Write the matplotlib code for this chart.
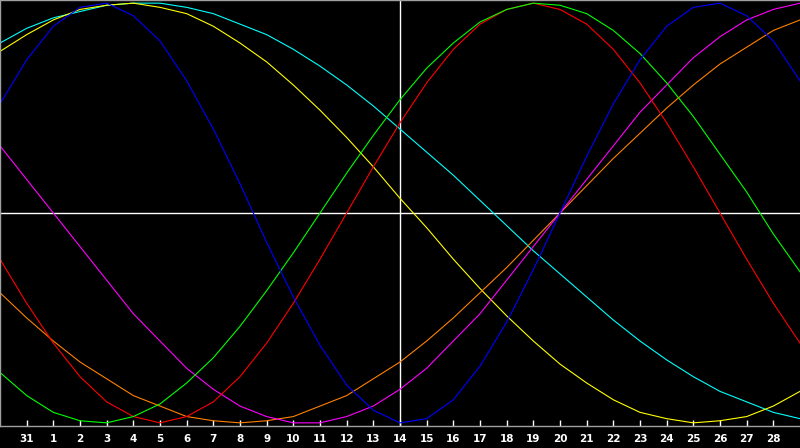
import numpy as np
import matplotlib
matplotlib.use('Agg')
import matplotlib.pyplot as plt

# day labels along the bottom (31 Jan, then 1..28)
day_labels = ['31', '1', '2', '3', '4', '5', '6', '7', '8', '9', '10', '11', '12', '13', '14',
              '15', '16', '17', '18', '19', '20', '21', '22', '23', '24', '25', '26', '27', '28']

# daily values, one point per day from the day before "31" to the day after "28"
red = [-0.22, -0.43, -0.62, -0.78, -0.90, -0.97, -1.00, -0.97, -0.90, -0.78, -0.62, -0.43, -0.22, 0.00, 0.22, 0.43,
       0.62, 0.78, 0.90, 0.97, 1.00, 0.97, 0.90, 0.78, 0.62, 0.43, 0.22, 0.00, -0.22, -0.43, -0.62]
green = [-0.76, -0.87, -0.95, -0.99, -1.00, -0.97, -0.91, -0.81, -0.69, -0.54, -0.37, -0.19, 0.00, 0.19, 0.37, 0.54,
         0.69, 0.81, 0.91, 0.97, 1.00, 0.99, 0.95, 0.87, 0.76, 0.62, 0.46, 0.28, 0.10, -0.10, -0.28]
blue = [0.52, 0.73, 0.89, 0.98, 1.00, 0.94, 0.82, 0.63, 0.40, 0.14, -0.14, -0.40, -0.63, -0.82, -0.94, -1.00,
        -0.98, -0.89, -0.73, -0.52, -0.27, 0.00, 0.27, 0.52, 0.73, 0.89, 0.98, 1.00, 0.94, 0.82, 0.63]
magenta = [0.32, 0.16, 0.00, -0.16, -0.32, -0.48, -0.61, -0.74, -0.84, -0.92, -0.97, -1.00, -1.00, -0.97, -0.92, -0.84,
           -0.74, -0.61, -0.48, -0.32, -0.16, 0.00, 0.16, 0.32, 0.48, 0.61, 0.74, 0.84, 0.92, 0.97, 1.00]
orange = [-0.38, -0.50, -0.61, -0.71, -0.79, -0.87, -0.92, -0.97, -0.99, -1.00, -0.99, -0.97, -0.92, -0.87, -0.79, -0.71,
          -0.61, -0.50, -0.38, -0.26, -0.13, 0.00, 0.13, 0.26, 0.38, 0.50, 0.61, 0.71, 0.79, 0.87, 0.92]
yellow = [0.77, 0.85, 0.92, 0.97, 0.99, 1.00, 0.98, 0.95, 0.89, 0.81, 0.72, 0.61, 0.49, 0.36, 0.22, 0.07,
          -0.07, -0.22, -0.36, -0.49, -0.61, -0.72, -0.81, -0.89, -0.95, -0.98, -1.00, -0.99, -0.97, -0.92, -0.85]
cyan = [0.81, 0.88, 0.93, 0.96, 0.99, 1.00, 1.00, 0.98, 0.95, 0.90, 0.85, 0.78, 0.70, 0.61, 0.51, 0.40,
        0.29, 0.18, 0.06, -0.06, -0.18, -0.29, -0.40, -0.51, -0.61, -0.70, -0.78, -0.85, -0.90, -0.95, -0.98]

today = 14  # index of the marked day

x = np.arange(-1, len(red) - 1)

fig = plt.figure(figsize=(8, 4.48), dpi=100, facecolor='black')
ax = fig.add_axes([0, 22 / 448, 1, 426 / 448], facecolor='black')

ax.axhline(0, color='white', lw=1.0, zorder=1)
ax.axvline(today, color='white', lw=1.0, zorder=1)

series = [(cyan, '#00ffff'), (yellow, '#ffff00'), (orange, '#ff8000'), (magenta, '#ff00ff'),
          (red, '#ff0000'), (green, '#00ff00'), (blue, '#0000ff')]
for vals, col in series:
    ax.plot(x, vals, color=col, lw=0.8, zorder=2)

ax.set_xlim(-1, 29)
ax.set_ylim(-1.015, 1.015)
ax.set_yticks([])
ax.set_xticks(range(len(day_labels)))
ax.set_xticklabels(day_labels, color='white', fontsize=7.5, fontweight='bold')
ax.tick_params(axis='x', direction='in', length=4, width=1, color='white', pad=6)

for s in ['left', 'top', 'bottom']:
    ax.spines[s].set_color('#a0a0a0')
    ax.spines[s].set_linewidth(1.0)
ax.spines['right'].set_visible(False)

fig.savefig('out.png', dpi=100, facecolor='black')
